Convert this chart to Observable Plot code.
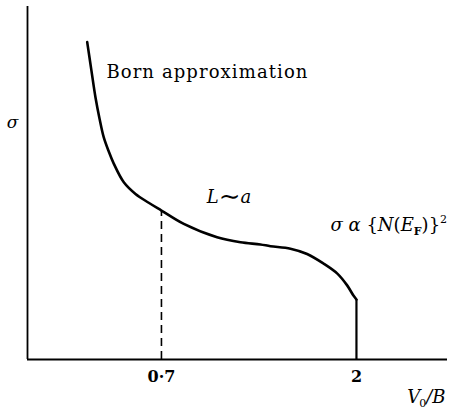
<!DOCTYPE html>
<html>
<head>
<meta charset="utf-8">
<script src="https://cdn.jsdelivr.net/npm/d3@7"></script>
<script src="https://cdn.jsdelivr.net/npm/@observablehq/plot@0.6"></script>
<style>
  body { margin: 0; background: #fff; }
  #chart svg { display: block; }
</style>
</head>
<body>
<div id="chart"></div>
<script>
// Conductivity σ against V0/B (arbitrary units on the σ axis)
const curveX = [0.205, 0.233, 0.26, 0.287, 0.315, 0.349, 0.382, 0.449, 0.527, 0.615, 0.7, 0.849, 1.071, 1.227, 1.36, 1.427, 1.56, 1.671, 1.78, 1.871, 1.938, 1.98, 2.0];
const curveY = [0.899, 0.819, 0.743, 0.683, 0.630, 0.589, 0.555, 0.502, 0.469, 0.444, 0.422, 0.384, 0.346, 0.332, 0.326, 0.321, 0.314, 0.299, 0.272, 0.244, 0.210, 0.181, 0.170];

// abrupt drop to zero at V0/B = 2
const edgeX = 2;
const edgeY = 0.170;

// L ~ a marker
const markX = 0.7;
const markY = 0.422;

// tick positions and labels on the V0/B axis
const tickValues = [0.7, 2];
const tickLabels = ["0·7", "2"];

const xDomain = [-0.193, 2.607];
const yDomain = [0, 1];

const curve = curveX.map((x, i) => ({x, y: curveY[i]}));
const ticks = tickValues.map((v, i) => ({x: v, label: tickLabels[i]}));

const serif = "DejaVu Serif";

const chart = Plot.plot({
  width: 450,
  height: 411,
  marginLeft: 27,
  marginRight: 3,
  marginTop: 6,
  marginBottom: 52,
  x: {domain: xDomain, axis: null},
  y: {domain: yDomain, axis: null},
  style: {fontFamily: serif, color: "#000", background: "#fff"},
  marks: [
    // axes
    Plot.ruleX([xDomain[0]], {stroke: "#000", strokeWidth: 1.8}),
    Plot.ruleY([0], {stroke: "#000", strokeWidth: 1.8}),
    // dashed marker at 0.7
    Plot.ruleX([markX], {y1: 0, y2: markY, stroke: "#000", strokeWidth: 1.6, strokeDasharray: "8,5"}),
    // conductivity curve
    Plot.line(curve, {x: "x", y: "y", curve: "catmull-rom", stroke: "#000", strokeWidth: 2.6}),
    Plot.ruleX([edgeX], {y1: 0, y2: edgeY, stroke: "#000", strokeWidth: 2.2}),
    // tick labels
    Plot.text(ticks, {x: "x", y: 0, text: "label", dy: 17, fontSize: 16, fontWeight: "bold", fontFamily: serif}),
    // axis titles
    Plot.text(["σ"], {x: xDomain[0], y: 0.67, text: d => d, dx: -15, fontSize: 17, fontStyle: "italic", fontFamily: serif, ariaLabel: () => "ylabel"}),
    Plot.text(["V0/B"], {x: xDomain[1], y: 0, text: d => d, dy: 38, dx: -2, textAnchor: "end", fontSize: 18, fontFamily: serif, ariaLabel: () => "xlabel"}),
    // annotations
    Plot.text(["Born approximation"], {x: 0.333, y: 0.815, text: d => d, textAnchor: "start", fontSize: 18, fontFamily: serif, ariaLabel: () => "born"}),
    Plot.text(["L~a"], {x: 1.15, y: 0.46, text: d => d, fontSize: 18, fontFamily: serif, ariaLabel: () => "lsima"}),
    Plot.text(["σ α {N(EF)}2"], {x: 1.827, y: 0.38, text: d => d, textAnchor: "start", fontSize: 18, fontFamily: serif, ariaLabel: () => "sigmaprop"})
  ]
});

document.getElementById("chart").appendChild(chart);

// rich text: italics, sub- and superscripts
function richText(label, runs) {
  const t = d3.select(chart).select(`text[aria-label="${label}"]`);
  t.text(null);
  let shift = 0;
  for (const r of runs) {
    const s = t.append("tspan").text(r.t);
    s.attr("font-style", r.italic ? "italic" : "normal");
    if (r.bold) s.attr("font-weight", "bold");
    if (r.size) s.attr("font-size", r.size);
    const target = r.shift || 0;
    if (target !== shift) { s.attr("dy", target - shift); shift = target; }
    if (r.dx) s.attr("dx", r.dx);
  }
}

d3.select(chart).select('text[aria-label="born"]').attr("letter-spacing", 1.1);
richText("ylabel", [{t: "σ", italic: true}]);
richText("xlabel", [
  {t: "V", italic: true},
  {t: "0", size: 11, shift: 4, dx: -1},
  {t: "/", italic: true, shift: 0},
  {t: "B", italic: true}
]);
richText("lsima", [
  {t: "L", italic: true},
  {t: "∼", size: 26, shift: 2},
  {t: "a", italic: true, shift: 0}
]);
richText("sigmaprop", [
  {t: "σ", italic: true},
  {t: " α ", italic: true},
  {t: "{"},
  {t: "N", italic: true},
  {t: "("},
  {t: "E", italic: true},
  {t: "F", size: 11, bold: true, shift: 4},
  {t: ")", shift: 0},
  {t: "}"},
  {t: "2", size: 11, shift: -8}
]);
</script>
</body>
</html>
